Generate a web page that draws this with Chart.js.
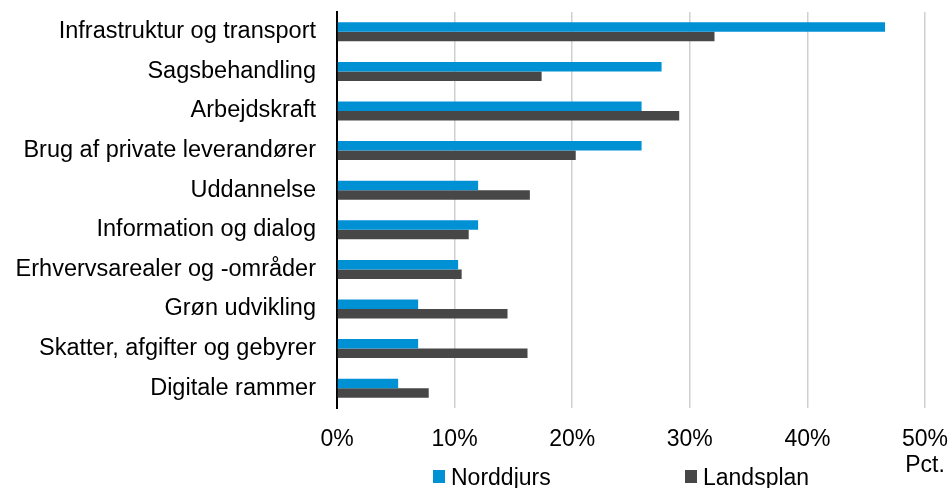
<!DOCTYPE html>
<html>
<head>
<meta charset="utf-8">
<script src="https://cdn.jsdelivr.net/npm/chart.js@4"></script>
<style>
  body { margin: 0; background: #fff; }
  #wrap { width: 949px; height: 488px; }
</style>
</head>
<body>
<div id="wrap"><canvas id="chart" width="949" height="488"></canvas></div>
<script>
    // data
    const categories = [
        'Infrastruktur og transport',
        'Sagsbehandling',
        'Arbejdskraft',
        'Brug af private leverandører',
        'Uddannelse',
        'Information og dialog',
        'Erhvervsarealer og -områder',
        'Grøn udvikling',
        'Skatter, afgifter og gebyrer',
        'Digitale rammer'
    ];
    const norddjurs = [46.6, 27.6, 25.9, 25.9, 12.0, 12.0, 10.3, 6.9, 6.9, 5.2];
    const landsplan = [32.1, 17.4, 29.1, 20.3, 16.4, 11.2, 10.6, 14.5, 16.2, 7.8];
    const xTicks = [0, 10, 20, 30, 40, 50];
    const unitLabel = 'Pct.';

    const FONT = 'Liberation Sans, Arial, sans-serif';

    // fjerner den ekstra plads chart.js laegger til for labels
    function noScalePadding(scale) {
        scale.paddingTop = 0;
        scale.paddingBottom = 0;
        scale.paddingLeft = 0;
        scale.paddingRight = 0;
    }

    // egen legend + "Pct." under aksen
    const extras = {
        id: 'extras',
        afterDraw(chart) {
            const ctx = chart.ctx;
            const xs = chart.scales.x;
            ctx.save();
            ctx.font = '23px ' + FONT;
            ctx.fillStyle = '#000';
            ctx.textBaseline = 'alphabetic';
            ctx.textAlign = 'center';
            ctx.fillText(unitLabel, xs.getPixelForValue(50), 472);

            const spots = [433, 685];
            chart.data.datasets.forEach(function (ds, i) {
                ctx.fillStyle = ds.backgroundColor;
                ctx.fillRect(spots[i], 470, 12, 13);
                ctx.fillStyle = '#000';
                ctx.textAlign = 'left';
                ctx.fillText(ds.label, spots[i] + 18, 485);
            });
            ctx.restore();
        }
    };

    new Chart(document.getElementById('chart').getContext('2d'), {
        type: 'bar',
        data: {
            labels: categories,
            datasets: [{
                label: 'Norddjurs',
                data: norddjurs,
                backgroundColor: '#0091d5'
            }, {
                label: 'Landsplan',
                data: landsplan,
                backgroundColor: '#474747'
            }]
        },
        options: {
            indexAxis: 'y',
            responsive: false,
            animation: false,
            categoryPercentage: 0.48,
            barPercentage: 1,
            layout: { padding: { top: 12, right: 24, bottom: 0, left: 0 } },
            plugins: {
                legend: { display: false },
                tooltip: { enabled: false }
            },
            scales: {
                x: {
                    min: 0,
                    max: 50,
                    afterBuildTicks(scale) {
                        scale.ticks = xTicks.map(v => ({ value: v }));
                    },
                    afterFit(scale) {
                        scale.height = 80;
                        noScalePadding(scale);
                    },
                    grid: { color: '#d0d0d0', lineWidth: 1.5, drawTicks: false },
                    border: { display: false },
                    ticks: {
                        padding: 18,
                        color: '#000',
                        font: { family: FONT, size: 23 },
                        callback: v => v + '%'
                    }
                },
                y: {
                    afterFit(scale) {
                        scale.width = 337;
                        noScalePadding(scale);
                    },
                    grid: { display: false, drawTicks: false },
                    border: { display: true, color: '#000', width: 2 },
                    ticks: {
                        padding: 21,
                        color: '#000',
                        font: { family: FONT, size: 23.5 }
                    }
                }
            }
        },
        plugins: [extras]
    });
</script>
</body>
</html>
